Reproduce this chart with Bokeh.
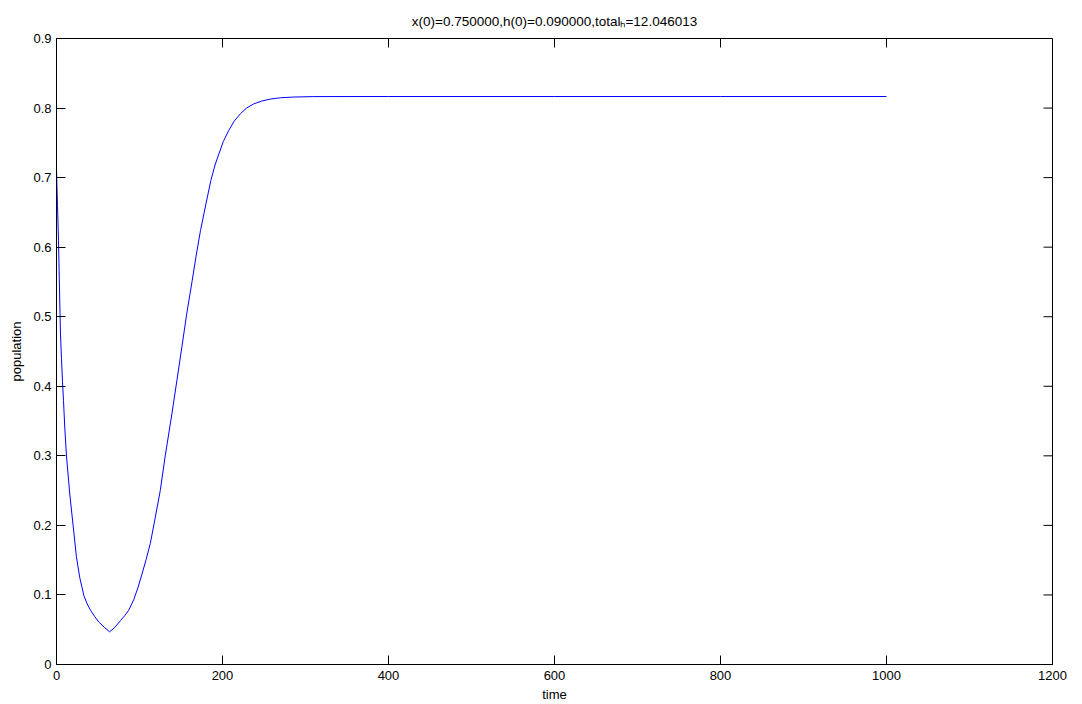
import math
from bokeh.plotting import figure
from bokeh.models import FixedTicker, Range1d
from bokeh.embed import file_html
from bokeh.resources import INLINE

# ---- data ----
time = [0, 1.2, 2.4, 3.6, 4.8, 6, 7.2, 8.4, 10, 12, 16, 20, 24, 28, 33, 37, 41, 46, 51, 58, 64,
        70, 77, 82, 87, 93, 98, 103, 108, 113, 118, 125, 131, 139, 145, 151, 157, 163.5, 168,
        173.5, 180, 186, 191, 195.6, 201, 207.6, 214, 221.7, 229, 237.7, 247, 258, 270, 285,
        310, 400, 600, 800, 1000]
population = [0.711, 0.66, 0.61, 0.54, 0.475, 0.44, 0.407, 0.38, 0.34, 0.30, 0.245, 0.20,
              0.155, 0.125, 0.099, 0.087, 0.078, 0.069, 0.061, 0.053, 0.047,
              0.053, 0.063, 0.070, 0.078, 0.093, 0.110, 0.130, 0.151, 0.174, 0.205, 0.25,
              0.30, 0.36, 0.408, 0.456, 0.505, 0.552, 0.586, 0.624, 0.662, 0.696, 0.718,
              0.734, 0.752, 0.768, 0.781, 0.792, 0.800, 0.806, 0.810, 0.813, 0.8148, 0.8158,
              0.8165, 0.8166, 0.8166, 0.8166, 0.8166]
x_ticks = [0, 200, 400, 600, 800, 1000, 1200]
x_tick_labels = ["0", "200", "400", "600", "800", "1000", "1200"]
y_ticks = [0, 0.1, 0.2, 0.3, 0.4, 0.5, 0.6, 0.7, 0.8, 0.9]
y_tick_labels = ["0", "0.1", "0.2", "0.3", "0.4", "0.5", "0.6", "0.7", "0.8", "0.9"]
x_limits = [0, 1200]
y_limits = [0, 0.9]
title_text = "x(0)=0.750000,h(0)=0.090000,total\u2095=12.046013"

FONT = "Liberation Sans"
FS = "13px"
TICK = 9

p = figure(frame_width=996, frame_height=626,
           min_border_left=56, min_border_right=30, min_border_top=38, min_border_bottom=40,
           x_range=Range1d(*x_limits), y_range=Range1d(*y_limits),
           output_backend="svg", toolbar_location=None,
           x_axis_label="time", y_axis_label="population")

p.line(time, population, line_color="#0000ff", line_width=1)

p.title.text = title_text
p.title.align = "center"
p.title.text_font = FONT
p.title.text_font_size = "13.5px"
p.title.text_font_style = "normal"
p.title.text_color = "black"
p.title.standoff = 20

p.grid.visible = False
p.outline_line_color = "black"
p.outline_line_width = 1
p.background_fill_color = "white"
p.border_fill_color = "white"

for ax, ticks, labels in ((p.xaxis[0], x_ticks, x_tick_labels),
                          (p.yaxis[0], y_ticks, y_tick_labels)):
    ax.ticker = FixedTicker(ticks=ticks)
    ax.major_label_overrides = {t: l for t, l in zip(ticks, labels)}
    ax.axis_line_color = "black"
    ax.major_tick_line_color = "black"
    ax.major_tick_in = TICK
    ax.major_tick_out = 0
    ax.minor_tick_line_color = None
    ax.major_label_text_font = FONT
    ax.major_label_text_font_size = FS
    ax.major_label_text_color = "black"
    ax.axis_label_text_font = FONT
    ax.axis_label_text_font_size = FS
    ax.axis_label_text_font_style = "normal"
    ax.axis_label_text_color = "black"

p.xaxis[0].major_label_standoff = 6
p.yaxis[0].major_label_standoff = 5
p.xaxis[0].axis_label_standoff = 4
p.yaxis[0].axis_label_standoff = 6

# inner ticks on the top and right edges of the box (MATLAB "box on")
p.ray(x=x_ticks, y=[y_limits[1]] * len(x_ticks), length=TICK, length_units="screen",
      angle=-math.pi / 2, line_color="black", line_width=1)
p.ray(x=[x_limits[1]] * len(y_ticks), y=y_ticks, length=TICK, length_units="screen",
      angle=math.pi, line_color="black", line_width=1)

open("out.html", "w").write(file_html(p, INLINE))
